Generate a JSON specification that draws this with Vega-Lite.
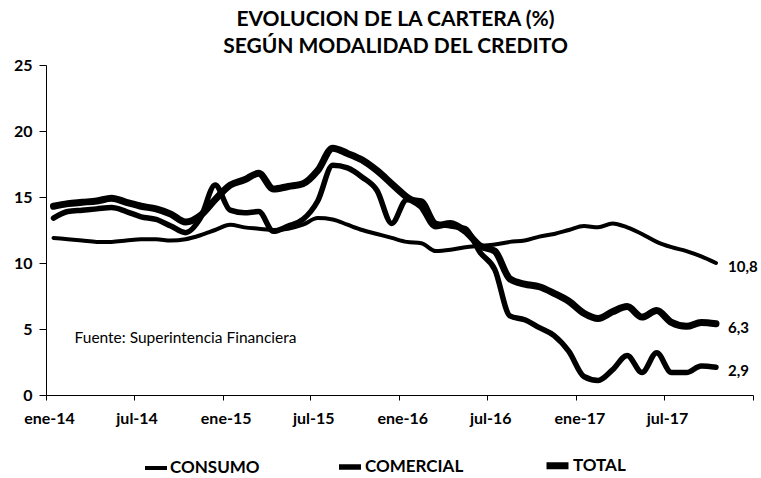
{
  "$schema": "https://vega.github.io/schema/vega-lite/v6.json",
  "width": 707,
  "height": 330,
  "autosize": "none",
  "padding": {"left": 46, "top": 65, "right": 8, "bottom": 83},
  "background": "white",
  "title": {
    "text": ["EVOLUCION DE LA CARTERA (%)", "SEGÚN MODALIDAD DEL CREDITO"],
    "anchor": "middle",
    "font": "Lato",
    "fontSize": 21,
    "fontWeight": "bold",
    "lineHeight": 27,
    "offset": 0,
    "dx": -4,
    "color": "#000"
  },
  "config": {"view": {"stroke": null}, "font": "Lato"},
  "layer": [
    {
      "data": {
        "values": [
          {"fecha": "2014-01-01", "CONSUMO": 11.9, "COMERCIAL": 13.4, "TOTAL": 14.3},
          {"fecha": "2014-02-01", "CONSUMO": 11.8, "COMERCIAL": 13.9, "TOTAL": 14.5},
          {"fecha": "2014-03-01", "CONSUMO": 11.7, "COMERCIAL": 14.0, "TOTAL": 14.6},
          {"fecha": "2014-04-01", "CONSUMO": 11.6, "COMERCIAL": 14.1, "TOTAL": 14.7},
          {"fecha": "2014-05-01", "CONSUMO": 11.6, "COMERCIAL": 14.2, "TOTAL": 14.9},
          {"fecha": "2014-06-01", "CONSUMO": 11.7, "COMERCIAL": 13.9, "TOTAL": 14.6},
          {"fecha": "2014-07-01", "CONSUMO": 11.8, "COMERCIAL": 13.5, "TOTAL": 14.3},
          {"fecha": "2014-08-01", "CONSUMO": 11.8, "COMERCIAL": 13.3, "TOTAL": 14.1},
          {"fecha": "2014-09-01", "CONSUMO": 11.7, "COMERCIAL": 12.8, "TOTAL": 13.7},
          {"fecha": "2014-10-01", "CONSUMO": 11.8, "COMERCIAL": 12.3, "TOTAL": 13.1},
          {"fecha": "2014-11-01", "CONSUMO": 12.1, "COMERCIAL": 13.4, "TOTAL": 13.6},
          {"fecha": "2014-12-01", "CONSUMO": 12.5, "COMERCIAL": 15.9, "TOTAL": 14.8},
          {"fecha": "2015-01-01", "CONSUMO": 12.9, "COMERCIAL": 14.0, "TOTAL": 15.9},
          {"fecha": "2015-02-01", "CONSUMO": 12.7, "COMERCIAL": 13.8, "TOTAL": 16.3},
          {"fecha": "2015-03-01", "CONSUMO": 12.6, "COMERCIAL": 13.9, "TOTAL": 16.8},
          {"fecha": "2015-04-01", "CONSUMO": 12.5, "COMERCIAL": 12.4, "TOTAL": 15.6},
          {"fecha": "2015-05-01", "CONSUMO": 12.6, "COMERCIAL": 12.8, "TOTAL": 15.8},
          {"fecha": "2015-06-01", "CONSUMO": 12.9, "COMERCIAL": 13.3, "TOTAL": 16.0},
          {"fecha": "2015-07-01", "CONSUMO": 13.4, "COMERCIAL": 14.7, "TOTAL": 17.0},
          {"fecha": "2015-08-01", "CONSUMO": 13.3, "COMERCIAL": 17.4, "TOTAL": 18.7},
          {"fecha": "2015-09-01", "CONSUMO": 12.9, "COMERCIAL": 17.2, "TOTAL": 18.3},
          {"fecha": "2015-10-01", "CONSUMO": 12.5, "COMERCIAL": 16.5, "TOTAL": 17.8},
          {"fecha": "2015-11-01", "CONSUMO": 12.2, "COMERCIAL": 15.5, "TOTAL": 17.0},
          {"fecha": "2015-12-01", "CONSUMO": 11.9, "COMERCIAL": 13.0, "TOTAL": 16.0},
          {"fecha": "2016-01-01", "CONSUMO": 11.6, "COMERCIAL": 14.8, "TOTAL": 15.0},
          {"fecha": "2016-02-01", "CONSUMO": 11.5, "COMERCIAL": 14.7, "TOTAL": 14.3},
          {"fecha": "2016-03-01", "CONSUMO": 10.9, "COMERCIAL": 13.0, "TOTAL": 12.8},
          {"fecha": "2016-04-01", "CONSUMO": 11.0, "COMERCIAL": 12.8, "TOTAL": 13.0},
          {"fecha": "2016-05-01", "CONSUMO": 11.2, "COMERCIAL": 12.6, "TOTAL": 12.4},
          {"fecha": "2016-06-01", "CONSUMO": 11.3, "COMERCIAL": 10.8, "TOTAL": 11.3},
          {"fecha": "2016-07-01", "CONSUMO": 11.4, "COMERCIAL": 9.5, "TOTAL": 10.9},
          {"fecha": "2016-08-01", "CONSUMO": 11.6, "COMERCIAL": 6.0, "TOTAL": 8.8},
          {"fecha": "2016-09-01", "CONSUMO": 11.7, "COMERCIAL": 5.7, "TOTAL": 8.4},
          {"fecha": "2016-10-01", "CONSUMO": 12.0, "COMERCIAL": 5.1, "TOTAL": 8.2},
          {"fecha": "2016-11-01", "CONSUMO": 12.2, "COMERCIAL": 4.5, "TOTAL": 7.7},
          {"fecha": "2016-12-01", "CONSUMO": 12.5, "COMERCIAL": 3.3, "TOTAL": 7.1},
          {"fecha": "2017-01-01", "CONSUMO": 12.8, "COMERCIAL": 1.4, "TOTAL": 6.2},
          {"fecha": "2017-02-01", "CONSUMO": 12.7, "COMERCIAL": 1.1, "TOTAL": 5.8},
          {"fecha": "2017-03-01", "CONSUMO": 13.0, "COMERCIAL": 1.9, "TOTAL": 6.3},
          {"fecha": "2017-04-01", "CONSUMO": 12.7, "COMERCIAL": 3.0, "TOTAL": 6.7},
          {"fecha": "2017-05-01", "CONSUMO": 12.2, "COMERCIAL": 1.7, "TOTAL": 5.9},
          {"fecha": "2017-06-01", "CONSUMO": 11.6, "COMERCIAL": 3.2, "TOTAL": 6.4},
          {"fecha": "2017-07-01", "CONSUMO": 11.2, "COMERCIAL": 1.7, "TOTAL": 5.5},
          {"fecha": "2017-08-01", "CONSUMO": 10.9, "COMERCIAL": 1.7, "TOTAL": 5.2},
          {"fecha": "2017-09-01", "CONSUMO": 10.5, "COMERCIAL": 2.2, "TOTAL": 5.5},
          {"fecha": "2017-10-01", "CONSUMO": 10.0, "COMERCIAL": 2.1, "TOTAL": 5.4}
        ]
      },
      "transform": [{"fold": ["CONSUMO", "COMERCIAL", "TOTAL"], "as": ["serie", "valor"]}],
      "mark": {"type": "line", "interpolate": "monotone", "strokeCap": "round", "strokeJoin": "round"},
      "encoding": {
        "x": {
          "field": "fecha",
          "type": "temporal",
          "timeUnit": "utcyearmonth",
          "bandPosition": 0.5,
          "scale": {
            "type": "utc",
            "domain": [
              {"year": 2014, "month": 1, "date": 1, "utc": true},
              {"year": 2018, "month": 1, "date": 1, "utc": true}
            ]
          },
          "axis": {
            "title": null,
            "grid": false,
            "values": [
              {"year": 2014, "month": 1, "date": 1, "utc": true},
              {"year": 2014, "month": 7, "date": 1, "utc": true},
              {"year": 2015, "month": 1, "date": 1, "utc": true},
              {"year": 2015, "month": 7, "date": 1, "utc": true},
              {"year": 2016, "month": 1, "date": 1, "utc": true},
              {"year": 2016, "month": 7, "date": 1, "utc": true},
              {"year": 2017, "month": 1, "date": 1, "utc": true},
              {"year": 2017, "month": 7, "date": 1, "utc": true},
              {"year": 2018, "month": 1, "date": 1, "utc": true}
            ],
            "labelExpr": "utcyear(datum.value) >= 2018 ? '' : (utcmonth(datum.value) == 0 ? 'ene-' : 'jul-') + utcFormat(datum.value, '%y')",
            "labelFont": "Lato",
            "labelFontSize": 16,
            "labelFontWeight": "bold",
            "labelColor": "#000",
            "labelPadding": 10,
            "labelOffset": 3,
            "labelFlush": false,
            "labelOverlap": false,
            "tickSize": 5,
            "tickColor": "#000",
            "domainColor": "#000"
          }
        },
        "y": {
          "field": "valor",
          "type": "quantitative",
          "scale": {"domain": [0, 25], "nice": false},
          "axis": {
            "title": null,
            "grid": false,
            "values": [0, 5, 10, 15, 20, 25],
            "labelFont": "Lato",
            "labelFontSize": 16,
            "labelFontWeight": "bold",
            "labelColor": "#000",
            "labelPadding": 7,
            "tickSize": 7,
            "tickColor": "#000",
            "domainColor": "#000"
          }
        },
        "color": {
          "field": "serie",
          "type": "nominal",
          "scale": {"domain": ["CONSUMO", "COMERCIAL", "TOTAL"], "range": ["#000000", "#000000", "#000000"]},
          "legend": {
            "orient": "none",
            "legendX": 97,
            "legendY": 386,
            "direction": "horizontal",
            "gridAlign": "each",
            "title": null,
            "symbolType": "stroke",
            "symbolSize": 484,
            "labelFont": "Lato",
            "labelFontSize": 17,
            "labelFontWeight": "bold",
            "labelColor": "#000",
            "labelOffset": 1,
            "columnPadding": 68
          }
        },
        "strokeWidth": {
          "field": "serie",
          "type": "nominal",
          "scale": {"domain": ["CONSUMO", "COMERCIAL", "TOTAL"], "range": [4, 7, 5]},
          "legend": {
            "orient": "none",
            "legendX": 97,
            "legendY": 386,
            "direction": "horizontal",
            "gridAlign": "each",
            "title": null,
            "symbolType": "stroke",
            "symbolSize": 484,
            "labelFont": "Lato",
            "labelFontSize": 17,
            "labelFontWeight": "bold",
            "labelColor": "#000",
            "labelOffset": 1,
            "columnPadding": 68
          }
        }
      }
    },
    {
      "data": {
        "values": [
          {"fecha": "2017-10-01", "serie": "CONSUMO", "valor": 10.0, "etiqueta": "10,8"},
          {"fecha": "2017-10-01", "serie": "TOTAL", "valor": 5.4, "etiqueta": "6,3"},
          {"fecha": "2017-10-01", "serie": "COMERCIAL", "valor": 2.1, "etiqueta": "2,9"}
        ]
      },
      "mark": {"type": "text", "align": "left", "baseline": "middle", "dx": 12, "dy": 4, "font": "Lato", "fontSize": 15, "fontWeight": "bold", "color": "#000"},
      "encoding": {
        "x": {"field": "fecha", "type": "temporal", "timeUnit": "utcyearmonth", "bandPosition": 0.5},
        "y": {"field": "valor", "type": "quantitative"},
        "text": {"field": "etiqueta"}
      }
    },
    {
      "data": {"values": [{"fecha": "2014-03-01", "valor": 4.3, "nota": "Fuente: Superintencia Financiera"}]},
      "mark": {"type": "text", "align": "left", "baseline": "middle", "font": "Lato", "fontSize": 15.5, "color": "#000"},
      "encoding": {
        "x": {"field": "fecha", "type": "temporal"},
        "y": {"field": "valor", "type": "quantitative"},
        "text": {"field": "nota"}
      }
    }
  ]
}
